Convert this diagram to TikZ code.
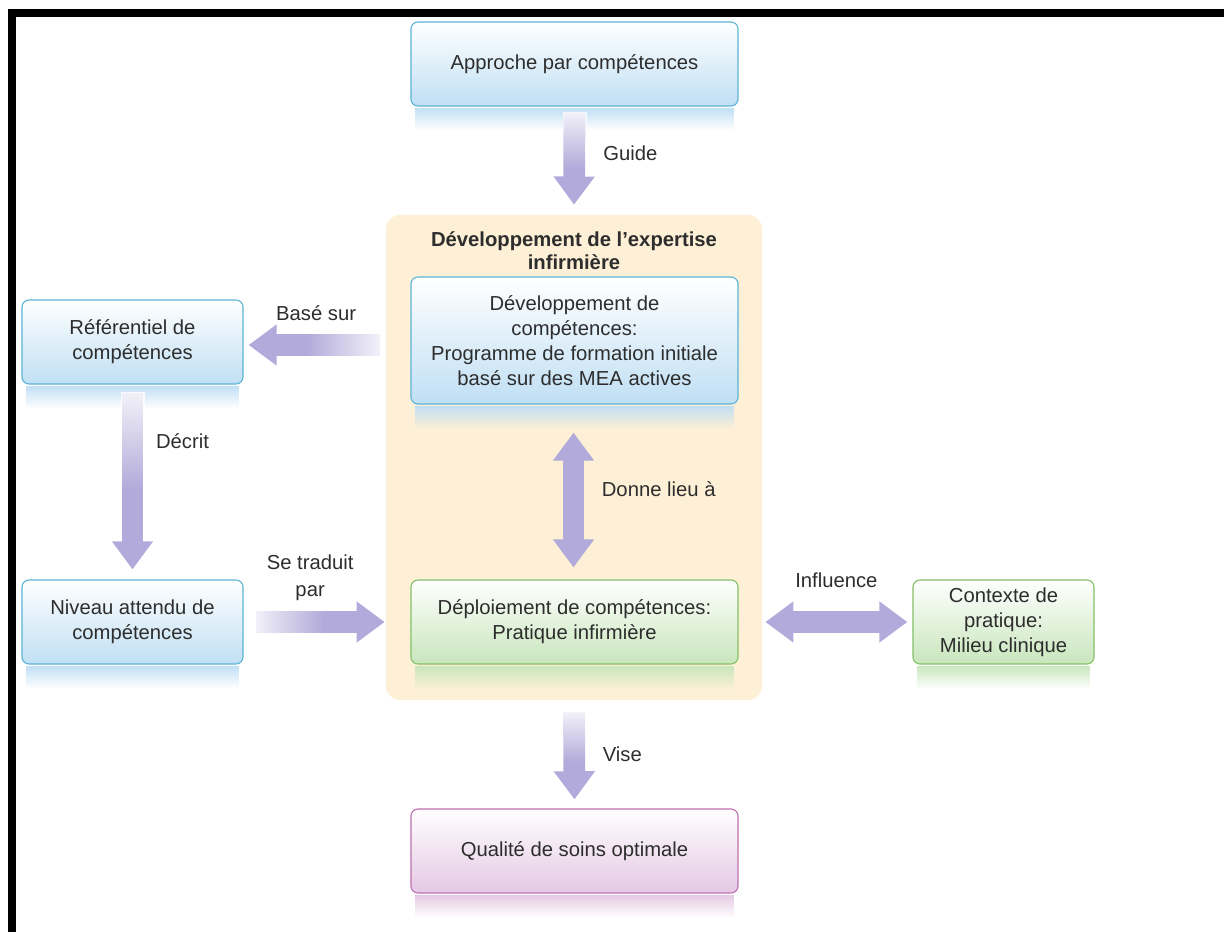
\documentclass[tikz,border=0pt]{standalone}
\usepackage{fontspec}
\setmainfont{Liberation Sans}
\usetikzlibrary{positioning,calc,arrows.meta,fadings}

\definecolor{textgrey}{RGB}{45,45,45}
\definecolor{arrowcol}{RGB}{178,170,218}
\definecolor{blueline}{RGB}{92,180,214}
\definecolor{bluefill}{RGB}{192,223,244}
\definecolor{greenline}{RGB}{132,192,104}
\definecolor{greenfill}{RGB}{200,230,188}
\definecolor{pinkline}{RGB}{190,112,176}
\definecolor{pinkfill}{RGB}{228,200,228}
\definecolor{expbg}{RGB}{253,240,214}

\tikzfading[name=whiten, left color=transparent!15, right color=transparent!100]

\tikzset{
  box/.style={draw=#1line, line width=0.8pt, rounded corners=5pt,
    top color=white, bottom color=#1fill, text=textgrey, align=center,
    minimum width=8.175cm, minimum height=2.1cm,
    font=\fontsize{14.4}{17.8}\selectfont},
  expbox/.style={fill=expbg, rounded corners=10pt, minimum width=9.4cm,
    minimum height=12.125cm},
  titlelbl/.style={text=textgrey, align=center, inner sep=0pt,
    font=\bfseries\fontsize{14.4}{16.5}\selectfont},
  lbl/.style={text=textgrey, align=center, inner sep=0pt,
    font=\fontsize{14.4}{19.2}\selectfont},
  fatarrow/.style={arrowcol, line width=15.5pt,
    -{Triangle[length=20pt,width=28pt]}},
  bothway/.style={arrowcol, line width=15.5pt,
    {Triangle[length=20pt,width=28pt]}-{Triangle[length=20pt,width=28pt]}},
  tailfade/.style={white, path fading=whiten, fading angle=#1}
}

\begin{document}
\begin{tikzpicture}[x=0.025cm, y=-0.025cm]
\useasboundingbox (0,0) rectangle (1224,932);
\fill (8,9.5) rectangle (1224,17);
\fill (8,9.5) rectangle (16,932);

\node[expbox] (expertise) at (574,457.5) {};
\node[titlelbl] (exptitle) at (574,251) {Développement de l’expertise\\infirmière};

\node[box=blue] (approche) at (574.5,64) {Approche par compétences};
\node[box=blue, minimum width=5.525cm] (ref) at (132.5,342) {Référentiel de\\compétences};
\node[box=blue, minimum width=5.525cm] (niveau) at (132.5,622) {Niveau attendu de\\compétences};
\node[box=blue, minimum height=3.175cm] (devcomp) at (574.5,340.5)
  {Développement de\\compétences:\\Programme de formation initiale\\basé sur des MEA actives};
\node[box=green] (deploi) at (574.5,622) {Déploiement de compétences:\\Pratique infirmière};
\node[box=green, minimum width=4.525cm] (contexte) at (1003.5,622) {Contexte de\\pratique:\\Milieu clinique};
\node[box=pink] (qualite) at (574.5,851) {Qualité de soins optimale};

% reflets
\foreach \n/\c in {approche/bluefill, ref/bluefill, niveau/bluefill, devcomp/bluefill,
                   deploi/greenfill, contexte/greenfill, qualite/pinkfill}
  \fill[\c, path fading=south] ($(\n.south west)+(5,1)$) rectangle ($(\n.south east)+(-5,24)$);

\draw[fatarrow] ($(approche.south)+(0,6)$) -- ($(expertise.north)+(0,-10)$)
  node[lbl, midway, xshift=1.4cm, yshift=0.14cm] {Guide};
\draw[fatarrow] ($(ref.east -| expertise.west)+(-6,3)$) -- ($(ref.east)+(5,3)$)
  node[lbl, midway, xshift=0.05cm, yshift=0.8cm] {Basé sur};
\draw[fatarrow] ($(ref.south)+(0,8)$) -- ($(niveau.north)+(0,-10)$)
  node[lbl, midway, xshift=1.25cm, yshift=1cm] {Décrit};
\draw[fatarrow] ($(niveau.east)+(12,0)$) -- ($(niveau.east -| expertise.west)+(-1,0)$)
  node[lbl, midway, xshift=-0.25cm, yshift=1.1cm] {Se traduit\\par};
\draw[bothway] ($(devcomp.south)+(-1,28)$) -- ($(deploi.north)+(-1,-12)$)
  node[lbl, midway, xshift=2.13cm, yshift=0.28cm] {Donne lieu à};
\draw[bothway] ($(deploi.east -| expertise.east)+(3,0)$) -- ($(contexte.west)+(-5,0)$)
  node[lbl, midway, yshift=1.05cm] {Influence};
\draw[fatarrow] ($(expertise.south)+(0,12)$) -- ($(qualite.north)+(0,-9)$)
  node[lbl, midway, xshift=1.2cm, yshift=0.05cm] {Vise};

% estompage des queues
\fill[tailfade=-90] ($(approche.south)+(-12,5)$) rectangle ($(approche.south)+(12,62)$);
\fill[tailfade=180] ($(ref.east -| expertise.west)+(-5,-9)$) rectangle ($(ref.east -| expertise.west)+(-80,15)$);
\fill[tailfade=-90] ($(ref.south)+(-12,7)$) rectangle ($(ref.south)+(12,105)$);
\fill[tailfade=0] ($(niveau.east)+(11,-12)$) rectangle ($(niveau.east)+(80,12)$);
\fill[tailfade=-90] ($(expertise.south)+(-12,11)$) rectangle ($(expertise.south)+(12,62)$);
\end{tikzpicture}
\end{document}
